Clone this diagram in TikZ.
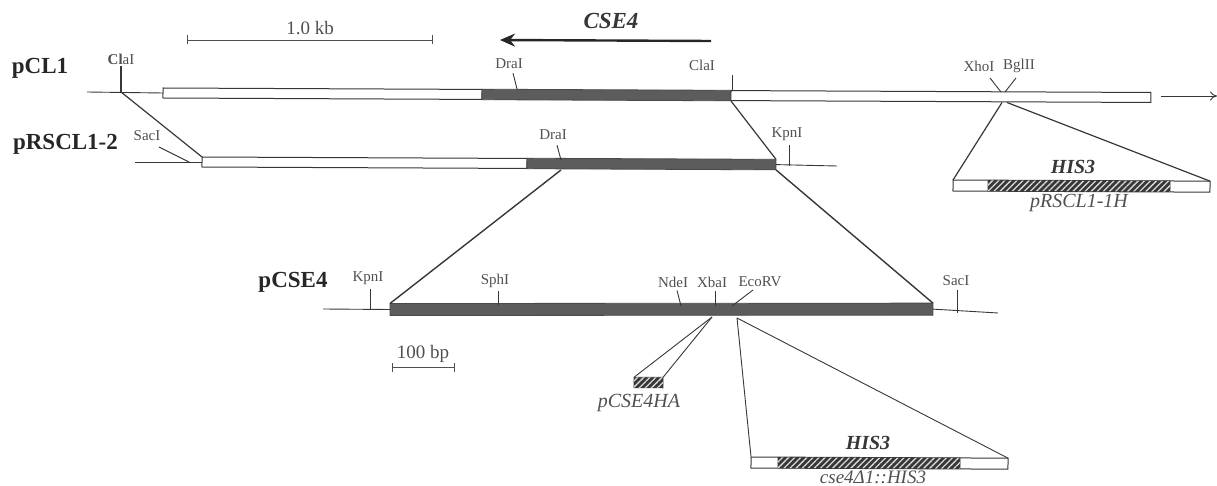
\documentclass[tikz,border=0pt]{standalone}
\usepackage{fontspec}
\setmainfont{Liberation Serif}
\usepackage{xcolor}
\usetikzlibrary{arrows.meta, patterns.meta}
\definecolor{InkGray}{RGB}{55,55,55}
\definecolor{LabelGray}{RGB}{80,80,80}
\definecolor{BarDark}{RGB}{92,92,92}

\begin{document}
\begin{tikzpicture}[
  x=1pt, y=-1pt,
  whitebar/.style={draw=InkGray, line width=1pt, fill=white, anchor=west, inner sep=0pt, outer sep=0pt,
                   minimum height=10pt, rotate=-0.26},
  darkbar/.style={draw=BarDark!80!black, line width=0.8pt, fill=BarDark, anchor=west, inner sep=0pt, outer sep=0pt,
                  minimum height=10.5pt, rotate=-0.26},
  hatchbar/.style={draw=InkGray, line width=0.8pt, fill=InkGray, anchor=west, inner sep=0pt, outer sep=0pt,
                   minimum height=10.5pt, rotate=-0.2,
                   postaction={pattern={Lines[angle=45,distance=4.3pt,line width=1.3pt]}, pattern color=white!85!black}},
  site/.style={font=\fontsize{15}{17}\selectfont, text=LabelGray, inner sep=0pt},
  plasmid/.style={font=\fontsize{23}{25}\selectfont\bfseries, text=black!85, inner sep=0pt},
  marker/.style={font=\fontsize{20}{22}\selectfont\bfseries\itshape, text=InkGray, inner sep=0pt},
  allele/.style={font=\fontsize{20}{22}\selectfont\itshape, text=LabelGray, inner sep=0pt},
  sizelabel/.style={font=\fontsize{19}{21}\selectfont, text=LabelGray, inner sep=0pt},
  dna/.style={draw=InkGray, line width=0.9pt},
  cut/.style={draw=InkGray, line width=0.9pt},
  cross/.style={draw=InkGray, line width=1.2pt},
  sizebar/.style={draw=LabelGray, line width=0.9pt, {Bar[width=9pt]}-{Bar[width=9pt]}},
]
\useasboundingbox (0,0) rectangle (1217,486);

% pCL1
\node[whitebar, minimum width=319] (pclleft) at (163,93) {};
\node[darkbar, minimum width=249] (pcldark) at (pclleft.east) {};
\node[whitebar, minimum width=420] (pclright) at (pcldark.east) {};
\node[plasmid] (pcl) at (40,68) {pCL1};
\node[site] (clafar) at (121,59) {\textbf{Cl}aI};
\node[site] (dra) at (509,64) {DraI};
\node[site] (cla) at (702,65) {ClaI};
\node[site] (xho) at (979,66) {XhoI};
\node[site] (bgl) at (1019,66) {BglII};

% pRSCL1-2
\node[whitebar, minimum width=325] (rscleft) at (202,162) {};
\node[darkbar, minimum width=249] (rscdark) at (rscleft.east) {};
\node[plasmid] (rsc) at (65.5,144) {pRSCL1-2};
\node[site] (sac) at (147,136) {SacI};
\node[site] (dratwo) at (553,135) {DraI};
\node[site] (kpn) at (787,134) {KpnI};

% pCSE4
\node[darkbar, minimum width=543, minimum height=12pt, rotate=0.3] (cse) at (390,309.5) {};
\node[plasmid] (csename) at (293,282) {pCSE4};
\node[site] (kpntwo) at (368,278) {KpnI};
\node[site] (sph) at (495,281) {SphI};
\node[site] (nde) at (673,282) {NdeI};
\node[site] (xba) at (712,282) {XbaI};
\node[site] (eco) at (760,282) {EcoRV};
\node[site] (sactwo) at (956,281) {SacI};

% inserts
\node[whitebar, minimum width=257, minimum height=11pt] (hisbox) at (953,185.5) {};
\node[hatchbar, minimum width=182] (hishatch) at (988,185.7) {};
\node[marker] (his) at (1073,167) {HIS3};
\node[allele] (rsclh) at (1079,203) {pRSCL1-1H};
\node[hatchbar, minimum width=29, minimum height=10.5pt] (ha) at (634,382.5) {};
\node[allele] (hatag) at (639,403) {pCSE4HA};
\node[whitebar, minimum width=257, minimum height=11pt] (delbox) at (751,462.5) {};
\node[hatchbar, minimum width=182] (delhatch) at (778,462.7) {};
\node[marker] (hisdel) at (868,443) {HIS3};
\node[allele, font=\fontsize{19}{20}\selectfont\itshape] (del) at (873,477) {cse4Δ1::HIS3};

% scale bars and CSE4 arrow
\coordinate (kbl) at (187,40);
\coordinate (kbr) at (433,40);
\node[sizelabel] (kb) at (310,28) {1.0 kb};
\draw[sizebar] (kbl) -- (kbr);
\coordinate (bpl) at (392,367);
\coordinate (bpr) at (455,367);
\node[sizelabel] (bp) at (423,354) {100 bp};
\draw[sizebar] (bpl) -- (bpr);
\coordinate (csel) at (500,40);
\coordinate (cser) at (711,41);
\node[marker, font=\fontsize{23}{25}\selectfont\bfseries\itshape] (csetitle) at (611,21) {CSE4};
\draw[draw=black!85, line width=2.4pt, {Stealth[length=15pt,width=13pt]}-] (csel) -- (cser);

% backbone lines
\coordinate (pclstart) at (87,92);
\coordinate (rscstart) at (135,162);
\coordinate (rscend) at (837,166);
\coordinate (csestart) at (323,309);
\coordinate (cseend) at (998,313);
\coordinate (arrowl) at (1161,96);
\coordinate (arrowr) at (1217,96);
\draw[dna] (pclstart) -- (pclleft.west);
\draw[dna] (rscstart) -- (rscleft.west);
\draw[dna] (rscdark.east) -- (rscend);
\draw[dna] (csestart) -- (cse.west);
\draw[dna] (cse.east) -- (cseend);
\draw[dna, -{To[length=7pt,width=9pt]}] (arrowl) -- (arrowr);

% cut sites
\coordinate (clafarcut) at (121,92);
\coordinate (dracut) at (517,89);
\coordinate (clacut) at (732,90);
\coordinate (xhocut) at (1001,92);
\coordinate (bglcut) at (1005,92);
\coordinate (saccut) at (189,162);
\coordinate (dratwocut) at (561,160);
\coordinate (kpncut) at (789,166);
\coordinate (kpntwocut) at (370,309);
\coordinate (sphcut) at (498,305);
\coordinate (ndecut) at (681,306);
\coordinate (xbacut) at (715,306);
\coordinate (ecocut) at (732,306);
\coordinate (sactwocut) at (957,313);
\draw[cross, line width=1.5pt] (clafar.south -| clafarcut) ++(0,2) -- (clafarcut);
\draw[cut] (dra.south) ++(4,4) -- (dracut);
\draw[cut] (cla.south -| clacut) ++(0,5) -- (clacut);
\draw[cut] (990,78) -- (xhocut);
\draw[cut] (1016,78) -- (bglcut);
\draw[cut] (159,147) -- (saccut);
\draw[cut] (dratwo.south) ++(4,5) -- (dratwocut);
\draw[cut] (kpn.south -| kpncut) ++(0,4) -- (kpncut);
\draw[cut] (kpntwo.south -| kpntwocut) ++(0,4) -- (kpntwocut);
\draw[cut] (sph.south -| sphcut) ++(0,3) -- (sphcut);
\draw[cut] (nde.south) ++(4,3) -- (ndecut);
\draw[cut] (xba.south -| xbacut) ++(0,4) -- (xbacut);
\draw[cut] (753,290) -- (ecocut);
\draw[cut] (sactwo.south -| sactwocut) ++(0,4) -- (sactwocut);

% links between maps
\coordinate (linkcla) at (731,101);
\coordinate (linkxho) at (1002,102.5);
\coordinate (linkbgl) at (1007,102.5);
\coordinate (linkdra) at (561,170);
\coordinate (linkxba) at (712,317);
\coordinate (linkeco) at (737,318);
\draw[cross] (clafarcut) -- (rscleft.north west);
\draw[cross] (linkcla) -- (rscdark.north east);
\draw[cross] (linkxho) -- (hisbox.north west);
\draw[cross] (linkbgl) -- (hisbox.north east);
\draw[cross, line width=1.4pt] (linkdra) -- (cse.north west);
\draw[cross, line width=1.4pt] (rscdark.south east) -- (cse.north east);
\draw[cut] (linkxba) -- (ha.north west);
\draw[cut] (linkxba) -- (ha.north east);
\draw[cut] (linkeco) -- (delbox.north west);
\draw[cut] (linkeco) -- (delbox.north east);
\end{tikzpicture}
\end{document}
